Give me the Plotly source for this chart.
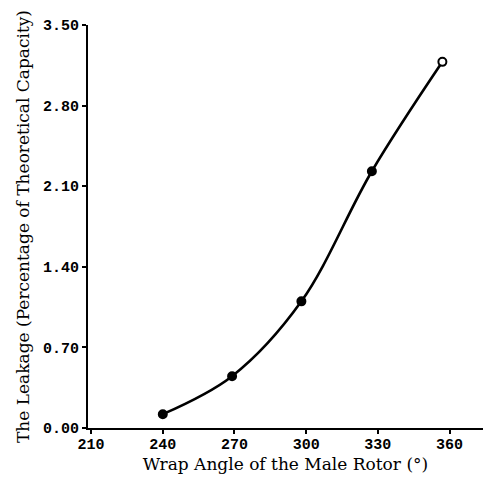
import plotly.graph_objects as go

wrap_angle = [240, 269, 298, 327.5, 357]
leakage = [0.12, 0.45, 1.10, 2.23, 3.18]
x_ticks = [210, 240, 270, 300, 330, 360]
y_ticks = [0.00, 0.70, 1.40, 2.10, 2.80, 3.50]
y_tick_text = ["0.00", "0.70", "1.40", "2.10", "2.80", "3.50"]

marker_fill = ["black", "black", "black", "black", "white"]

fig = go.Figure()
fig.add_trace(go.Scatter(
    x=wrap_angle, y=leakage,
    mode="lines+markers",
    line=dict(color="black", width=2.6, shape="spline", smoothing=1.0),
    marker=dict(size=8, color=marker_fill, line=dict(color="black", width=2)),
    showlegend=False,
))

tick_font = dict(family="Liberation Mono", size=15, color="black", weight="bold")
title_font = dict(family="DejaVu Serif", size=17, color="black")

fig.update_xaxes(
    range=[208.7, 374], tickvals=x_ticks, ticktext=[str(v) for v in x_ticks],
    showline=True, linecolor="black", linewidth=2, showgrid=False, zeroline=False,
    ticks="outside", ticklen=4, tickwidth=1.5, tickcolor="black",
    tickfont=tick_font, automargin=False, ticklabelstandoff=-3,
    title=dict(text="Wrap Angle of the Male Rotor (°)", font=title_font, standoff=5),
)
fig.update_yaxes(
    range=[0, 3.5], tickvals=y_ticks, ticktext=y_tick_text,
    showline=True, linecolor="black", linewidth=2, showgrid=False, zeroline=False,
    ticks="outside", ticklen=4, tickwidth=1.5, tickcolor="black",
    tickfont=tick_font, automargin=False,
    title=dict(text="The Leakage (Percentage of Theoretical Capacity)", font=title_font, standoff=9),
)
fig.update_layout(
    width=485, height=483,
    margin=dict(l=88, r=2, t=25, b=55),
    paper_bgcolor="white", plot_bgcolor="white",
)
fig.write_html("out.html", config={"displayModeBar": False},
               post_script="document.body.style.margin='0';")
